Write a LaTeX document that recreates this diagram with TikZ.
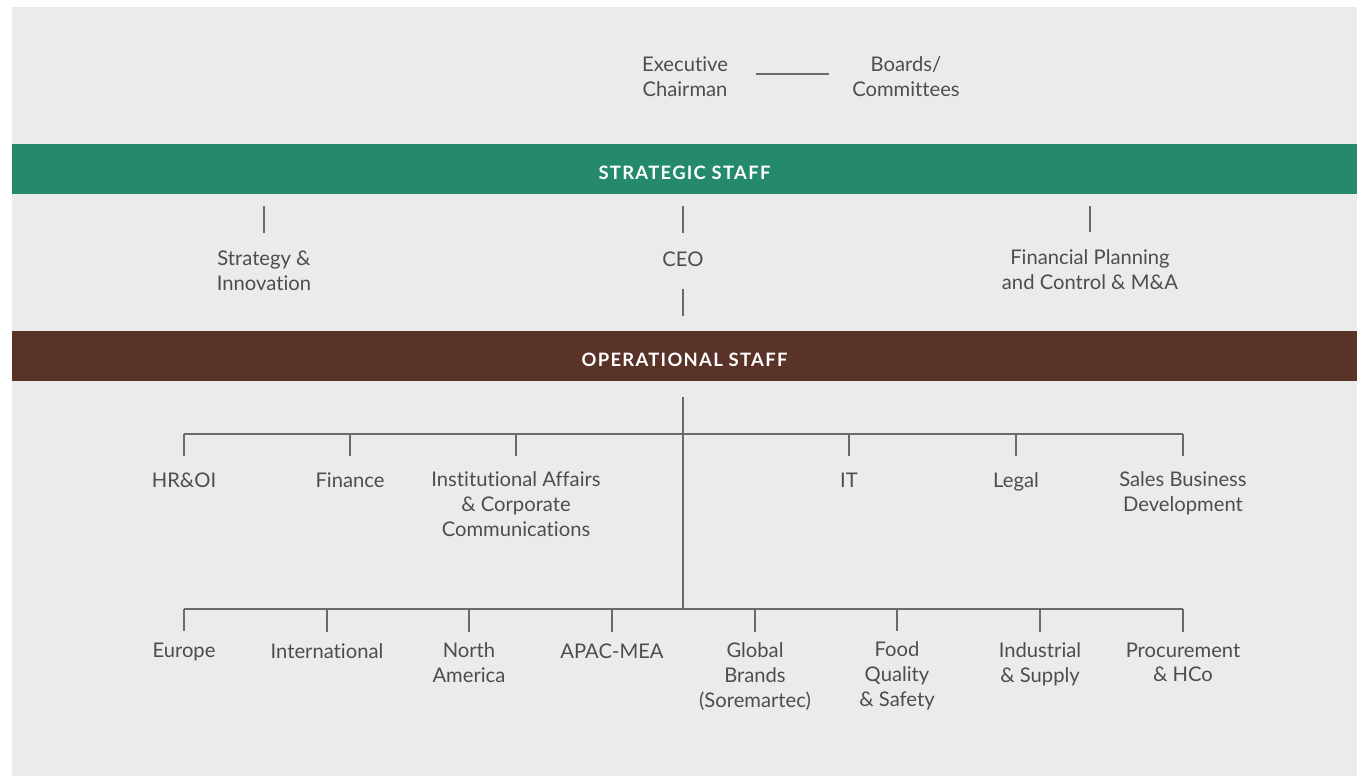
\documentclass[tikz,border=0pt]{standalone}
\usepackage{fontspec}
\setmainfont{Lato}[Ligatures=NoCommon]
\definecolor{pagebg}{HTML}{EBEBEB}
\definecolor{stratgreen}{HTML}{248A6B}
\definecolor{opbrown}{HTML}{5A3328}
\definecolor{txtgray}{HTML}{4D4D4D}
\definecolor{lnkgray}{HTML}{6A6A6A}
\tikzset{
  orgtext/.style={anchor=north, yshift=9pt, inner sep=0pt, align=center,
    text=txtgray, font=\fontsize{11.5}{14.2}\selectfont,
    execute at begin node=\rule{0pt}{9pt}},
  bandbox/.style={fill=#1, inner sep=0pt, minimum width=26.9cm, minimum height=1cm,
    text=white, text height=11.4pt, text depth=0pt,
    font=\fontsize{10.5}{12}\selectfont\bfseries\addfontfeature{LetterSpace=7}},
  link/.style={draw=lnkgray, line width=0.7pt}
}
\begin{document}
\begin{tikzpicture}[x=0.02cm, y=-0.02cm]
  \useasboundingbox (0,0) rectangle (1362,776);
  \fill[pagebg] (12,7) rectangle (1357,776);

  % top
  \node[orgtext] (exec) at (685,72) {Executive\\Chairman};
  \node[orgtext] (boards) at (906,72) {Boards/\\Committees};
  \coordinate (chair-l) at (756,74);
  \coordinate (chair-r) at (829,74);
  \draw[link] (chair-l) -- (chair-r);

  % strategic staff
  \node[bandbox=stratgreen] (strat) at (684.5,169) {STRATEGIC STAFF};
  \node[orgtext] (strategy) at (264,266) {Strategy \&\\Innovation};
  \node[orgtext] (ceo) at (683,266) {CEO};
  \node[orgtext] (fpc) at (1090,265) {Financial Planning\\and Control \& M\&A};
  \foreach \n in {strategy, ceo, fpc}
    \draw[link, shorten <=0.24cm, shorten >=0.34cm] (\n.north |- strat.south) -- (\n.north);

  % operational staff
  \node[bandbox=opbrown] (oper) at (684.5,356) {OPERATIONAL STAFF};
  \draw[link, shorten <=0.46cm, shorten >=0.3cm] (ceo.base) -- (ceo.base |- oper.north);

  \coordinate (bus1) at (683,434);
  \coordinate (bus2) at (683,609);
  \draw[link, shorten <=0.32cm] (oper.south -| bus2) -- (bus2);

  % first row
  \node[orgtext] (hr) at (184,487) {HR\&OI};
  \node[orgtext] (fin) at (350,487) {Finance};
  \node[orgtext] (ia) at (516,487) {Institutional Affairs\\\& Corporate\\Communications};
  \node[orgtext] (it) at (849,487) {IT};
  \node[orgtext] (legal) at (1016,487) {Legal};
  \node[orgtext] (sbd) at (1183,487) {Sales Business\\Development};
  \draw[link] (hr.north |- bus1) -- (sbd.north |- bus1);
  \foreach \n in {hr, fin, ia, it, legal, sbd}
    \draw[link, shorten >=0.3cm] (\n.north |- bus1) -- (\n.north);

  % second row
  \node[orgtext] (eu) at (184,657) {Europe};
  \node[orgtext] (intl) at (327,658) {International};
  \node[orgtext] (na) at (469,658) {North\\America};
  \node[orgtext] (apac) at (612,658) {APAC-MEA};
  \node[orgtext] (gb) at (755,658) {Global\\Brands\\(Soremartec)};
  \node[orgtext] (fqs) at (897,657) {Food\\Quality\\\& Safety};
  \node[orgtext] (ind) at (1040,658) {Industrial\\\& Supply};
  \node[orgtext] (proc) at (1183,658) {Procurement\\\& HCo};
  \draw[link] (eu.north |- bus2) -- (proc.north |- bus2);
  \foreach \n in {eu, intl, na, apac, gb, fqs, ind, proc}
    \draw[link, shorten >=0.2cm] (\n.north |- bus2) -- (\n.north);
\end{tikzpicture}
\end{document}
